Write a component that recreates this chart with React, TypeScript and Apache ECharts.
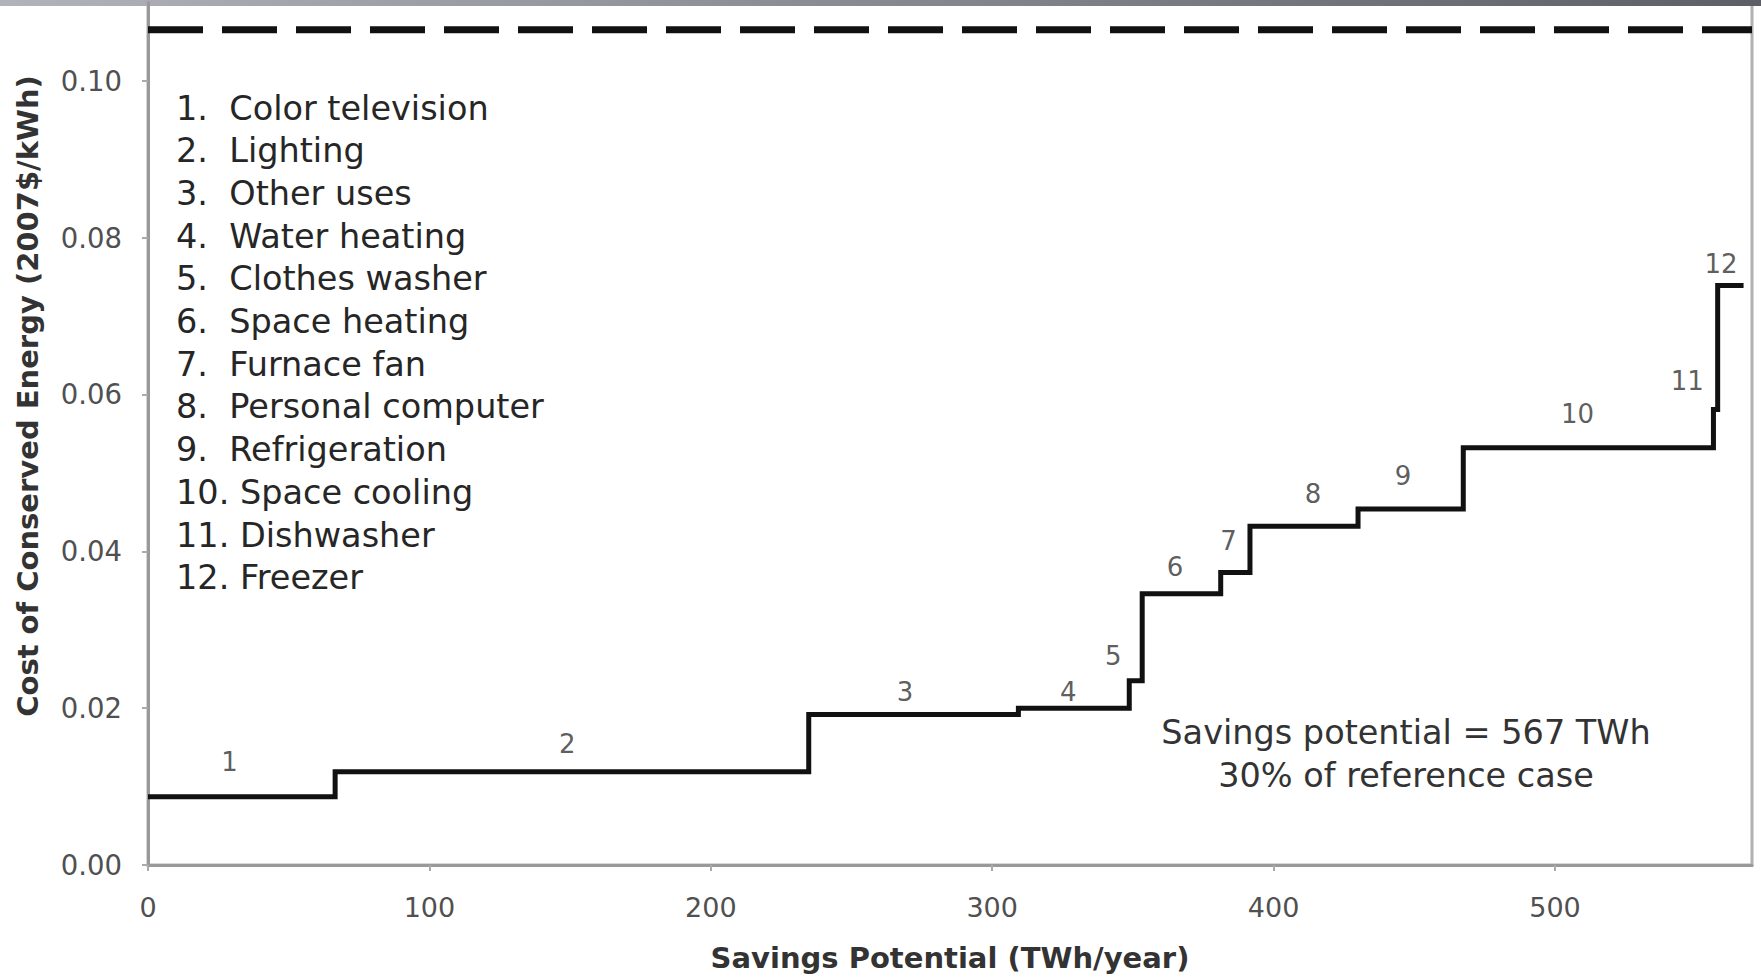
import React, { useEffect, useRef } from 'react';
import * as echarts from 'echarts';

// End uses, in supply-curve order
const categories = [
  'Color television',
  'Lighting',
  'Other uses',
  'Water heating',
  'Clothes washer',
  'Space heating',
  'Furnace fan',
  'Personal computer',
  'Refrigeration',
  'Space cooling',
  'Dishwasher',
  'Freezer',
];
// Cumulative savings at the end of each step (TWh/year)
const cumulativeSavings = [66.5, 234.8, 309.3, 348.7, 353.3, 381.2, 391.6, 430.0, 467.4, 556.3, 557.8, 567.0];
// Cost of conserved energy of each step (2007$/kWh)
const costOfConservedEnergy = [0.0087, 0.0119, 0.0192, 0.02, 0.0235, 0.0346, 0.0373, 0.0432, 0.0454, 0.0532, 0.0581, 0.0739];
// Where each step's number is written (data coordinates)
const stepLabelX = [29, 149, 269, 327, 343, 365, 384, 414, 446, 508, 547, 559];
const stepLabelY = [0.0131, 0.0154, 0.0221, 0.0221, 0.0267, 0.038, 0.0413, 0.0473, 0.0496, 0.0575, 0.0617, 0.0766];
// Reference electricity price (dashed line)
const referencePrice = 0.1065;
const totalSavingsTWh = 567;
const shareOfReferencePct = 30;
const xAxisMax = 570;
const yAxisMax = 0.11;
const xTickInterval = 100;
const yTickInterval = 0.02;

const FONT = '"DejaVu Sans", Verdana, sans-serif';

export default function App() {
  const ref = useRef<HTMLDivElement>(null);

  useEffect(() => {
    document.body.style.margin = '0';
    const chart = echarts.init(ref.current!, null, { renderer: 'svg' });

    const stepPoints: number[][] = [[0, costOfConservedEnergy[0]]];
    for (let i = 1; i < costOfConservedEnergy.length; i++) {
      stepPoints.push([cumulativeSavings[i - 1], costOfConservedEnergy[i]]);
    }
    stepPoints.push([cumulativeSavings[cumulativeSavings.length - 1], costOfConservedEnergy[costOfConservedEnergy.length - 1]]);

    const labelPoints = stepLabelX.map((x, i) => [x, stepLabelY[i]]);

    const legendItems = categories.map((c, i) => ({
      type: 'text',
      x: 176,
      y: 108 + i * 42.7,
      silent: true,
      style: {
        text: `${i + 1}.${i < 9 ? '  ' : ' '}${c}`,
        font: `33.5px ${FONT}`,
        fill: '#262626',
        verticalAlign: 'middle',
        align: 'left',
      },
    }));

    chart.setOption({
      animation: false,
      backgroundColor: '#ffffff',
      grid: {
        left: 148,
        right: 9,
        top: 2.4,
        bottom: 110,
        show: true,
        borderColor: '#b0b0b0',
        borderWidth: 3,
        backgroundColor: 'transparent',
      },
      xAxis: {
        type: 'value',
        min: 0,
        max: xAxisMax,
        interval: xTickInterval,
        name: 'Savings Potential (TWh/year)',
        nameLocation: 'middle',
        nameGap: 78,
        nameTextStyle: { fontFamily: FONT, fontSize: 29, fontWeight: 'bold', color: '#333' },
        axisLine: { show: true, lineStyle: { color: '#999', width: 3 } },
        axisTick: { show: true, length: 6, lineStyle: { color: '#aaa', width: 2 } },
        axisLabel: { fontFamily: FONT, fontSize: 27, color: '#505050', margin: 29, showMaxLabel: false },
        splitLine: { show: false },
      },
      yAxis: {
        type: 'value',
        min: 0,
        max: yAxisMax,
        interval: yTickInterval,
        axisLine: { show: true, lineStyle: { color: '#999', width: 3 } },
        axisTick: { show: true, length: 6, lineStyle: { color: '#aaa', width: 2 } },
        axisLabel: {
          fontFamily: FONT,
          fontSize: 27.5,
          color: '#505050',
          margin: 26,
          showMaxLabel: false,
          formatter: (v: number) => v.toFixed(2),
        },
        splitLine: { show: false },
      },
      graphic: [
        {
          type: 'text',
          x: 28,
          y: 396,
          rotation: Math.PI / 2,
          silent: true,
          style: {
            text: 'Cost of Conserved Energy (2007$/kWh)',
            font: `bold 29px ${FONT}`,
            fill: '#333',
            align: 'center',
            verticalAlign: 'middle',
          },
        },
        ...legendItems,
        {
          type: 'text',
          x: 1406,
          y: 732,
          silent: true,
          style: {
            text: `Savings potential = ${totalSavingsTWh} TWh`,
            font: `33.5px ${FONT}`,
            fill: '#333',
            align: 'center',
            verticalAlign: 'middle',
          },
        },
        {
          type: 'text',
          x: 1406,
          y: 775,
          silent: true,
          style: {
            text: `${shareOfReferencePct}% of reference case`,
            font: `33.5px ${FONT}`,
            fill: '#333',
            align: 'center',
            verticalAlign: 'middle',
          },
        },
        {
          type: 'rect',
          silent: true,
          shape: { x: 0, y: 0, width: 1761, height: 6 },
          style: {
            fill: new echarts.graphic.LinearGradient(0, 0, 1, 0, [
              { offset: 0, color: '#b2b2ba' },
              { offset: 1, color: '#5e5e66' },
            ]),
          },
        },
      ],
      series: [
        {
          name: 'Reference price',
          type: 'line',
          data: [[0, referencePrice], [xAxisMax, referencePrice]],
          symbol: 'none',
          silent: true,
          lineStyle: { color: '#111', width: 7, type: [55, 19], cap: 'butt' },
          z: 3,
        },
        {
          name: 'Cost of conserved energy',
          type: 'line',
          step: 'end',
          data: stepPoints,
          symbol: 'none',
          silent: true,
          lineStyle: { color: '#111', width: 5, cap: 'butt', join: 'miter' },
          z: 4,
        },
        {
          name: 'Step numbers',
          type: 'scatter',
          data: labelPoints,
          symbolSize: 1,
          silent: true,
          itemStyle: { color: 'rgba(0,0,0,0)' },
          label: {
            show: true,
            position: 'inside',
            formatter: (p: any) => String(p.dataIndex + 1),
            fontFamily: FONT,
            fontSize: 26,
            color: '#333',
          },
          z: 5,
        },
      ],
    });

    return () => chart.dispose();
  }, []);

  return (
    <div
      ref={ref}
      style={{ position: 'fixed', left: 0, top: 0, width: 1761, height: 977 }}
    />
  );
}
